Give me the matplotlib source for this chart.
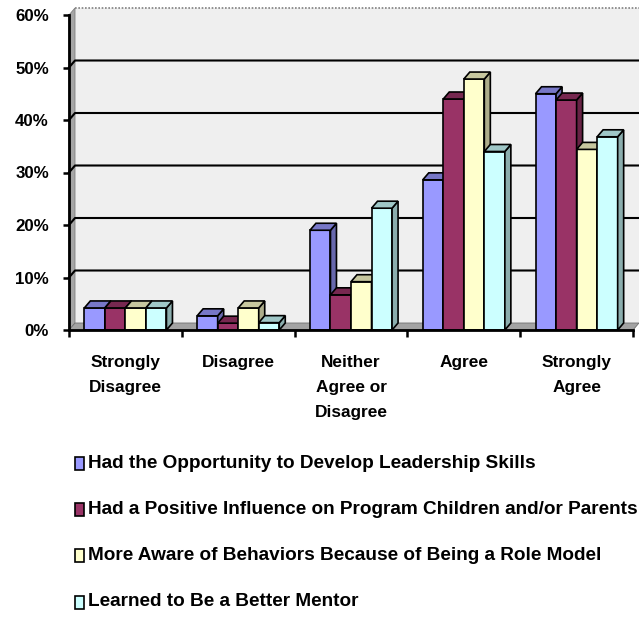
import numpy as np
import matplotlib
matplotlib.use("Agg")
import matplotlib.pyplot as plt
import matplotlib.patches as mpatches
from matplotlib.colors import to_rgb

plt.rcParams['font.family'] = ['Liberation Sans', 'DejaVu Sans']
plt.rcParams['font.weight'] = 'bold'

categories = ["Strongly\nDisagree", "Disagree", "Neither\nAgree or\nDisagree",
              "Agree", "Strongly\nAgree"]
series_names = ["Had the Opportunity to Develop Leadership Skills",
                "Had a Positive Influence on Program Children and/or Parents",
                "More Aware of Behaviors Because of Being a Role Model",
                "Learned to Be a Better Mentor"]
leadership = [4.2, 2.7, 19.0, 28.6, 45.0]
influence = [4.2, 1.3, 6.7, 44.0, 43.8]
aware = [4.2, 4.2, 9.2, 47.8, 34.4]
mentor = [4.2, 1.4, 23.2, 34.0, 36.8]
series = [leadership, influence, aware, mentor]
colors = ["#9999FF", "#993366", "#FFFFCC", "#CCFFFF"]
yticks = [0, 10, 20, 30, 40, 50, 60]

W, H = 639, 618
fig = plt.figure(figsize=(W / 100, H / 100), dpi=100)
fig.patch.set_facecolor("white")

# front plane of the plot: x from 69 to 633 px, 0% at 330 px, 60% at 15 px
ax = fig.add_axes([69 / W, (H - 330) / H, (633 - 69) / W, (330 - 15) / H])
ax.set_xlim(-0.5, 4.5)
ax.set_ylim(0, 60)
ax.patch.set_visible(False)

# depth offset of the 3d box, in data units
ddx = 6 / 112.8
ddy = 7 / 5.25

x0, x1 = -0.5, 4.5
top = yticks[-1]

# back wall, side wall and floor
wall = mpatches.Polygon([(x0 + ddx, ddy), (x1 + ddx, ddy), (x1 + ddx, top + ddy),
                         (x0 + ddx, top + ddy)], closed=True, facecolor="#EFEFEF",
                        edgecolor="none", clip_on=False, zorder=0)
ax.add_patch(wall)
side_wall = mpatches.Polygon([(x0, 0), (x0 + ddx, ddy), (x0 + ddx, top + ddy), (x0, top)],
                             closed=True, facecolor="#A6A6A6", edgecolor="#7F7F7F",
                             lw=0.6, clip_on=False, zorder=0.5)
ax.add_patch(side_wall)
floor = mpatches.Polygon([(x0, 0), (x1, 0), (x1 + ddx, ddy), (x0 + ddx, ddy)],
                         closed=True, facecolor="#A3A3A3", edgecolor="#6F6F6F",
                         lw=0.6, clip_on=False, zorder=0.5)
ax.add_patch(floor)
ax.plot([x0 + ddx, x1 + ddx], [top + ddy, top + ddy], color="#808080", lw=1.2,
        ls=(0, (1, 1)), clip_on=False, zorder=0.6)

# gridlines on the back wall, continued across the side wall
for v in yticks[1:-1]:
    ax.plot([x0, x0 + ddx, x1 + ddx], [v, v + ddy, v + ddy], color="black", lw=1.5,
            clip_on=False, zorder=1)

# 3d columns
bw = 0.182
idx = np.arange(len(categories))
for s, (vals, c) in enumerate(zip(series, colors)):
    offs = idx + (s - 1.5) * bw
    bars = ax.bar(offs, vals, width=bw, color=c, edgecolor="black", lw=1.2,
                  zorder=3 + s, label=series_names[s])
    rgb = np.array(to_rgb(c))
    for b in bars:
        bx0 = b.get_x()
        bx1 = bx0 + b.get_width()
        h = b.get_height()
        side = mpatches.Polygon([(bx1, 0), (bx1 + ddx, ddy), (bx1 + ddx, h + ddy), (bx1, h)],
                                closed=True, facecolor=rgb * 0.68, edgecolor="black",
                                lw=1.2, zorder=3.5 + s, clip_on=False)
        cap = mpatches.Polygon([(bx0, h), (bx1, h), (bx1 + ddx, h + ddy), (bx0 + ddx, h + ddy)],
                               closed=True, facecolor=rgb * 0.78, edgecolor="black",
                               lw=1.2, zorder=3.5 + s, clip_on=False)
        ax.add_patch(side)
        ax.add_patch(cap)

# axes lines and ticks
for sp in ["top", "right"]:
    ax.spines[sp].set_visible(False)
for sp in ["left", "bottom"]:
    ax.spines[sp].set_linewidth(2)
    ax.spines[sp].set_zorder(10)

ax.set_yticks(yticks)
ax.set_yticklabels(["%d%%" % v for v in yticks], fontsize=12.2)
ax.tick_params(axis="y", direction="out", length=4, width=1.8, pad=10.5)

ax.set_xticks(np.arange(len(categories) + 1) - 0.5)
ax.set_xticklabels([])
ax.set_xticks(idx, minor=True)
ax.set_xticklabels(categories, minor=True, fontsize=12.4, linespacing=1.85)
ax.tick_params(axis="x", which="major", direction="out", length=5, width=1.8)
ax.tick_params(axis="x", which="minor", length=0, pad=18)

# legend drawn as a list of swatches below the plot
rows = [463, 509, 555, 602]
for name, c, yr in zip(series_names, colors, rows):
    fig.patches.append(mpatches.Rectangle((75 / W, (H - yr - 7) / H), 9 / W, 13 / H,
                                          facecolor=c, edgecolor="black", lw=1.2,
                                          transform=fig.transFigure, figure=fig))
    fig.text(88 / W, (H - yr) / H, name, fontsize=13.7, fontweight="bold",
             ha="left", va="center")

fig.savefig("out.png", dpi=100)
